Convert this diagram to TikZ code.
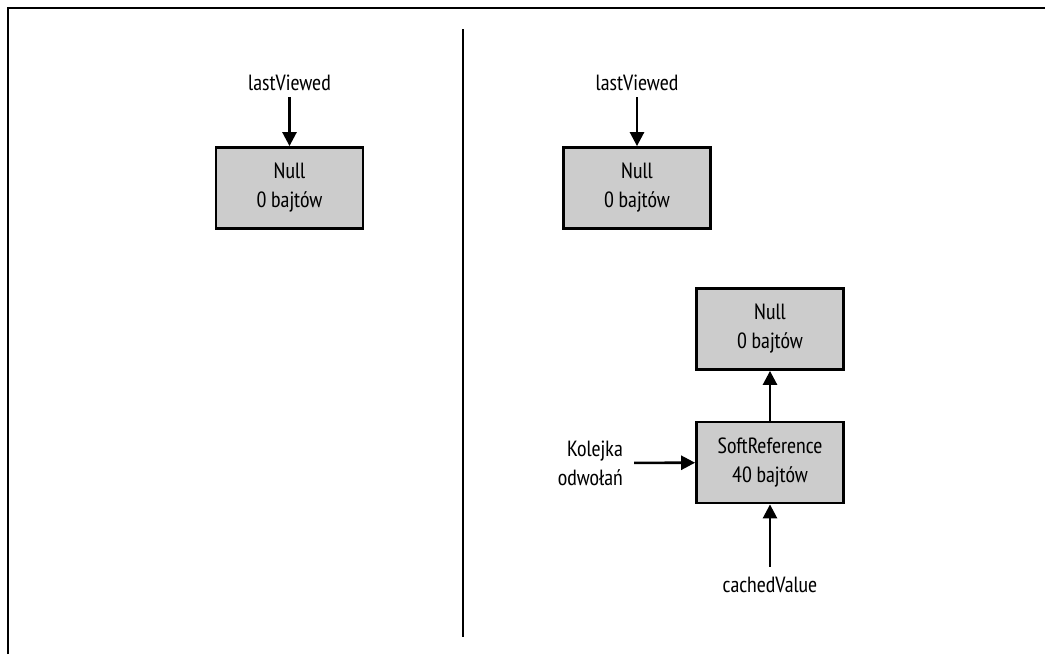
\documentclass[tikz,border=0pt]{standalone}
\usepackage{fontspec}
\setmainfont{PT Sans Narrow}
\usetikzlibrary{arrows.meta}
\definecolor{boxgray}{RGB}{204,204,204}
\begin{document}
\begin{tikzpicture}[x=1pt,y=-1pt,
  txt/.style={font=\fontsize{22}{29}\selectfont},
  box/.style={txt, draw=black, line width=2.8pt, fill=boxgray, minimum width=147pt, minimum height=81pt, align=center, inner sep=0pt},
  lbl/.style={txt, inner sep=0pt},
  arr/.style={-{Triangle[length=14pt,width=14pt]}, line width=2.6pt},
  rule/.style={line width=2.8pt}]
\useasboundingbox (0,0) rectangle (1045,654);
% frame and divider
\draw[rule] (8,654) -- (8,8) -- (1045,8);
\coordinate (dtop) at (463,29);
\coordinate (dbot) at (463,637);
\draw[line width=2.6pt] (dtop) -- (dbot);
% left panel
\node[lbl] (lv1) at (289.5,83) {lastViewed};
\node[box] (n1) at (289.5,188) {Null\\0 bajtów};
\draw[arr, shorten <=6pt] (lv1) -- (n1);
% right panel
\node[lbl] (lv2) at (637,83) {lastViewed};
\node[box] (n2) at (637,188) {Null\\0 bajtów};
\draw[arr, shorten <=6pt] (lv2) -- (n2);
\node[box] (n3) at (770,329) {Null\\0 bajtów};
\node[box] (sr) at (770,462.5) {SoftReference\\40 bajtów};
\draw[arr] (sr) -- (n3);
\node[lbl, align=right, anchor=east] (kq) at (623,463) {Kolejka\\odwołań};
\draw[arr, shorten <=11pt] (kq) -- (sr);
\node[lbl] (cv) at (770,585) {cachedValue};
\draw[arr, shorten <=10pt] (cv) -- (sr);
\end{tikzpicture}
\end{document}
